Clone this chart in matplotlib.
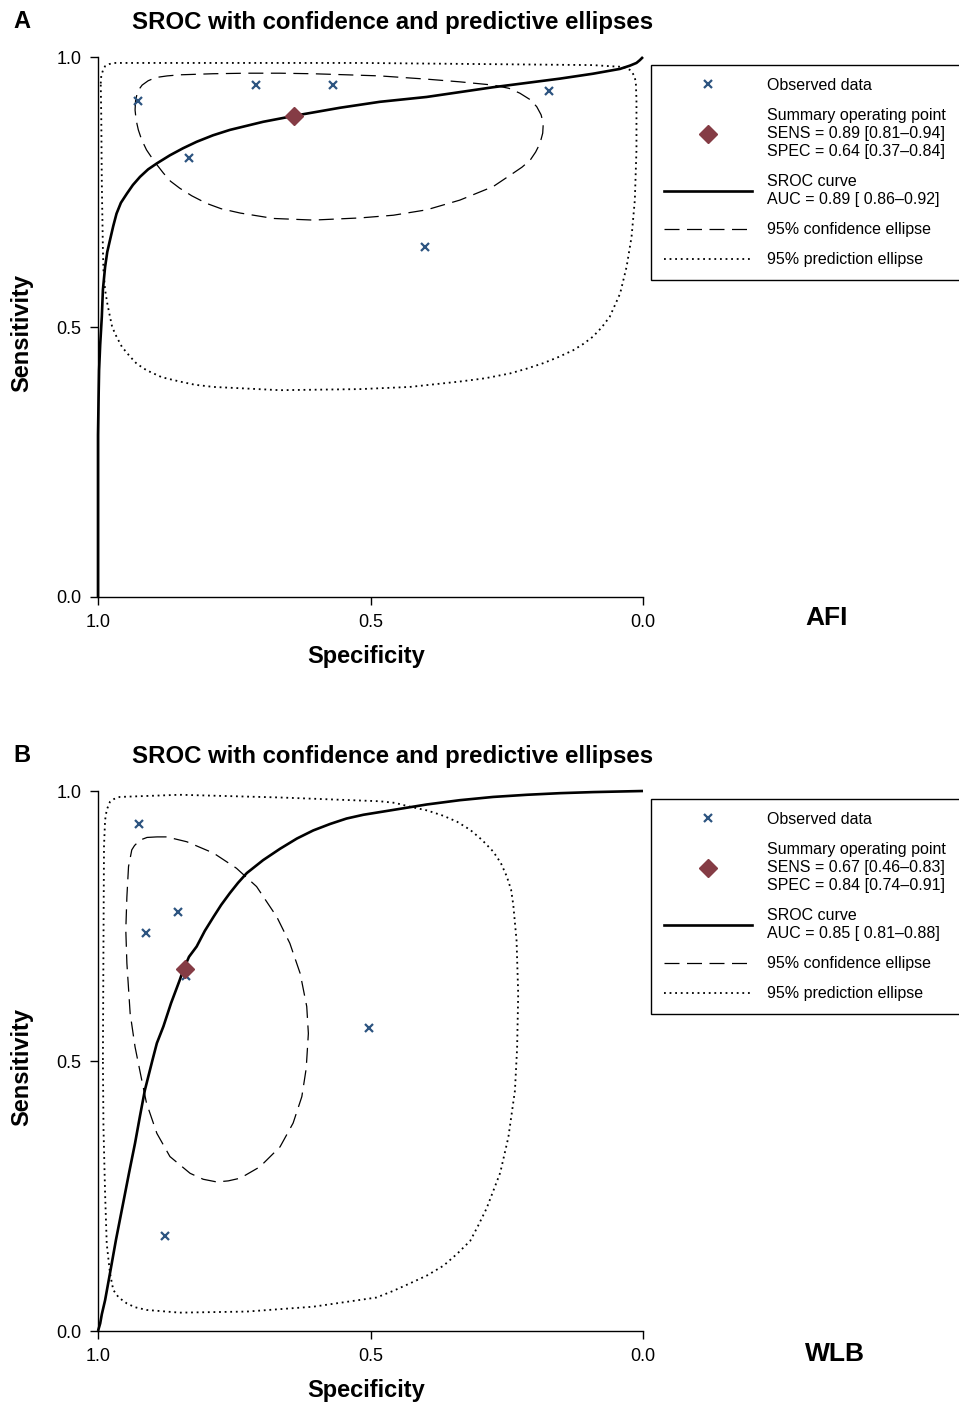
import matplotlib
matplotlib.use("Agg")
import matplotlib.pyplot as plt
from matplotlib.lines import Line2D

plt.rcParams['font.family'] = ['Liberation Sans', 'DejaVu Sans']

# ---------------- Panel A (AFI) ----------------
a_obs_spec = [0.927, 0.710, 0.569, 0.833, 0.400, 0.172]
a_obs_sens = [0.918, 0.948, 0.948, 0.813, 0.648, 0.937]
a_sum_spec = [0.64]
a_sum_sens = [0.89]
a_sroc_spec = [1.0, 1.0, 0.999, 0.998, 0.996, 0.993, 0.991, 0.987, 0.983, 0.978, 0.972,
               0.966, 0.958, 0.947, 0.936, 0.923, 0.908, 0.892, 0.868, 0.844, 0.819,
               0.789, 0.758, 0.697, 0.635, 0.556, 0.483, 0.397, 0.275, 0.152, 0.092,
               0.042, 0.024, 0.012, 0.006, 0.0]
a_sroc_sens = [0.0, 0.30, 0.365, 0.420, 0.467, 0.519, 0.569, 0.611, 0.639, 0.661, 0.687,
               0.710, 0.730, 0.747, 0.763, 0.778, 0.792, 0.803, 0.818, 0.831, 0.843,
               0.855, 0.865, 0.880, 0.892, 0.906, 0.917, 0.926, 0.944, 0.960, 0.969,
               0.978, 0.984, 0.989, 0.994, 1.0]
a_conf_spec = [0.932, 0.931, 0.927, 0.919, 0.908, 0.894, 0.873, 0.850, 0.789, 0.727, 0.666,
               0.606, 0.543, 0.483, 0.397, 0.336, 0.275, 0.246, 0.226, 0.207, 0.195, 0.187,
               0.183, 0.184, 0.189, 0.197, 0.207, 0.222, 0.238, 0.275, 0.336, 0.397, 0.458,
               0.519, 0.605, 0.678, 0.739, 0.774, 0.801, 0.828, 0.850, 0.867, 0.880, 0.897,
               0.911, 0.920, 0.926, 0.930, 0.932]
a_conf_sens = [0.902, 0.920, 0.937, 0.948, 0.956, 0.962, 0.965, 0.967, 0.969, 0.970, 0.970,
               0.969, 0.967, 0.965, 0.959, 0.954, 0.948, 0.942, 0.933, 0.921, 0.908, 0.893,
               0.877, 0.859, 0.840, 0.824, 0.809, 0.796, 0.785, 0.760, 0.735, 0.717, 0.707,
               0.702, 0.698, 0.701, 0.711, 0.719, 0.729, 0.743, 0.757, 0.770, 0.785, 0.807,
               0.828, 0.847, 0.865, 0.883, 0.902]
a_pred_spec = [0.995, 0.994, 0.991, 0.987, 0.979, 0.968, 0.960, 0.519, 0.092, 0.061, 0.042,
               0.031, 0.024, 0.019, 0.015, 0.013, 0.012, 0.012, 0.015, 0.021, 0.030, 0.042,
               0.061, 0.076, 0.092, 0.109, 0.128, 0.156, 0.183, 0.213, 0.244, 0.290, 0.336,
               0.428, 0.519, 0.666, 0.788, 0.822, 0.850, 0.883, 0.911, 0.929, 0.941, 0.956,
               0.966, 0.974, 0.978, 0.983, 0.987, 0.990, 0.991, 0.993, 0.994, 0.995]
a_pred_sens = [0.951, 0.965, 0.975, 0.983, 0.987, 0.989, 0.989, 0.989, 0.985, 0.983, 0.982,
               0.980, 0.976, 0.970, 0.963, 0.949, 0.920, 0.828, 0.735, 0.667, 0.612, 0.562,
               0.519, 0.499, 0.482, 0.469, 0.457, 0.444, 0.433, 0.423, 0.414, 0.405, 0.399,
               0.389, 0.385, 0.383, 0.389, 0.393, 0.399, 0.407, 0.420, 0.432, 0.445, 0.463,
               0.482, 0.500, 0.519, 0.544, 0.569, 0.606, 0.643, 0.766, 0.889, 0.951]
a_labels = ["Observed data",
            "Summary operating point\nSENS = 0.89 [0.81\u20130.94]\nSPEC = 0.64 [0.37\u20130.84]",
            "SROC curve\nAUC = 0.89 [ 0.86\u20130.92]",
            "95% confidence ellipse",
            "95% prediction ellipse"]

# ---------------- Panel B (WLB) ----------------
b_obs_spec = [0.925, 0.854, 0.912, 0.839, 0.502, 0.877]
b_obs_sens = [0.938, 0.776, 0.737, 0.657, 0.562, 0.176]
b_sum_spec = [0.84]
b_sum_sens = [0.67]
b_sroc_spec = [1.0, 0.996, 0.993, 0.987, 0.978, 0.967, 0.954, 0.943, 0.932, 0.923, 0.914,
               0.900, 0.892, 0.880, 0.866, 0.850, 0.843, 0.833, 0.819, 0.804, 0.788, 0.774,
               0.758, 0.743, 0.727, 0.697, 0.666, 0.635, 0.605, 0.574, 0.544, 0.513, 0.458,
               0.397, 0.336, 0.275, 0.213, 0.152, 0.091, 0.0]
b_sroc_sens = [0.0, 0.014, 0.031, 0.057, 0.107, 0.169, 0.236, 0.293, 0.348, 0.398, 0.446,
               0.502, 0.533, 0.564, 0.607, 0.650, 0.670, 0.693, 0.712, 0.741, 0.767, 0.789,
               0.811, 0.830, 0.848, 0.872, 0.893, 0.912, 0.927, 0.939, 0.949, 0.956, 0.965,
               0.975, 0.983, 0.989, 0.993, 0.996, 0.998, 1.0]
b_conf_spec = [0.892, 0.910, 0.923, 0.933, 0.938, 0.944, 0.947, 0.949, 0.947, 0.941, 0.932,
               0.921, 0.911, 0.892, 0.868, 0.831, 0.807, 0.782, 0.761, 0.739, 0.703, 0.666,
               0.642, 0.626, 0.618, 0.614, 0.617, 0.629, 0.648, 0.672, 0.709, 0.746, 0.788,
               0.837, 0.874, 0.892]
b_conf_sens = [0.915, 0.914, 0.909, 0.899, 0.891, 0.860, 0.804, 0.743, 0.681, 0.588, 0.526,
               0.471, 0.422, 0.366, 0.323, 0.292, 0.281, 0.276, 0.278, 0.283, 0.304, 0.341,
               0.385, 0.434, 0.486, 0.551, 0.601, 0.662, 0.718, 0.767, 0.823, 0.857, 0.885,
               0.906, 0.915, 0.915]
b_pred_spec = [0.991, 0.990, 0.989, 0.987, 0.984, 0.978, 0.971, 0.960, 0.850, 0.666, 0.483,
               0.455, 0.428, 0.396, 0.366, 0.341, 0.317, 0.295, 0.275, 0.261, 0.250, 0.242,
               0.238, 0.232, 0.229, 0.231, 0.235, 0.247, 0.262, 0.287, 0.303, 0.317, 0.341,
               0.366, 0.396, 0.428, 0.459, 0.489, 0.605, 0.727, 0.850, 0.911, 0.932, 0.947,
               0.962, 0.972, 0.978, 0.984, 0.987, 0.990, 0.991]
b_pred_sens = [0.502, 0.712, 0.897, 0.946, 0.965, 0.980, 0.985, 0.989, 0.993, 0.988, 0.981,
               0.978, 0.971, 0.964, 0.954, 0.943, 0.928, 0.909, 0.888, 0.867, 0.842, 0.817,
               0.789, 0.723, 0.624, 0.524, 0.445, 0.359, 0.293, 0.227, 0.194, 0.167, 0.143,
               0.121, 0.103, 0.088, 0.074, 0.062, 0.045, 0.036, 0.034, 0.039, 0.044, 0.051,
               0.062, 0.076, 0.107, 0.162, 0.255, 0.378, 0.502]
b_labels = ["Observed data",
            "Summary operating point\nSENS = 0.67 [0.46\u20130.83]\nSPEC = 0.84 [0.74\u20130.91]",
            "SROC curve\nAUC = 0.85 [ 0.81\u20130.88]",
            "95% confidence ellipse",
            "95% prediction ellipse"]

ticks = [1.0, 0.5, 0.0]
tick_labels = ["1.0", "0.5", "0.0"]

W, H = 959, 1405
OBS_COLOR = "#2d5480"
SUM_COLOR = "#853c45"
DASH = (0, (12, 6))
DOT = (0, (1, 2.1))
DOT_LW = 1.3

fig = plt.figure(figsize=(W / 100, H / 100), dpi=100)


def fx(px):
    return px / W


def fy(py):
    return 1 - py / H


def make_panel(top_px, letter, name, obs_x, obs_y, sum_x, sum_y, sroc_x, sroc_y,
               conf_x, conf_y, pred_x, pred_y, labels, leg_top_px, name_y_px):
    left, right, bottom = 98, 643, top_px + 540
    ax = fig.add_axes([fx(left), fy(bottom), (right - left) / W, 540 / H])
    ax.set_xlim(1.0, 0.0)
    ax.set_ylim(0.0, 1.0)
    for s in ("top", "right"):
        ax.spines[s].set_visible(False)
    for s in ("left", "bottom"):
        ax.spines[s].set_linewidth(1.0)
    ax.set_xticks(ticks)
    ax.set_xticklabels(tick_labels)
    ax.set_yticks(ticks)
    ax.set_yticklabels(tick_labels)
    ax.tick_params(direction="out", length=6, width=1.0, labelsize=13, pad=6)

    ax.plot(pred_x, pred_y, color="black", lw=DOT_LW, ls=DOT, clip_on=False)
    ax.plot(conf_x, conf_y, color="black", lw=0.9, ls=DASH, clip_on=False)
    ax.plot(sroc_x, sroc_y, color="black", lw=1.9, clip_on=False, solid_capstyle="butt",
            solid_joinstyle="round")
    ax.plot(obs_x, obs_y, ls="none", marker="x", ms=5.5, mew=1.6, color=OBS_COLOR,
            clip_on=False)
    ax.plot(sum_x, sum_y, ls="none", marker="D", ms=9, color=SUM_COLOR, clip_on=False)

    handles = [
        Line2D([], [], ls="none", marker="x", ms=5.5, mew=1.6, color=OBS_COLOR),
        Line2D([], [], ls="none", marker="D", ms=9, color=SUM_COLOR),
        Line2D([], [], color="black", lw=1.9),
        Line2D([], [], color="black", lw=0.9, ls=DASH),
        Line2D([], [], color="black", lw=DOT_LW, ls=DOT),
    ]
    leg = ax.legend(handles, labels, loc="upper left",
                    bbox_to_anchor=(fx(651), fy(leg_top_px), fx(980) - fx(651), 0),
                    bbox_transform=fig.transFigure, mode="expand", borderaxespad=0,
                    fontsize=11.5, handlelength=5.5, handletextpad=0.95, borderpad=0.8,
                    labelspacing=0.95, numpoints=1, fancybox=False, framealpha=1,
                    edgecolor="black")
    leg.get_frame().set_linewidth(1.0)
    for t in leg.get_texts():
        t.set_linespacing(1.25)

    fig.text(fx(22), fy(top_px - 35), letter, fontsize=17, fontweight="bold",
             ha="center", va="center")
    fig.text(fx(393), fy(top_px - 35), "SROC with confidence and predictive ellipses",
             fontsize=17.3, fontweight="bold", ha="center", va="center")
    fig.text(fx(22), fy(top_px + 276), "Sensitivity", fontsize=17, fontweight="bold",
             rotation=90, ha="center", va="center")
    fig.text(fx(366), fy(top_px + 600), "Specificity", fontsize=17, fontweight="bold",
             ha="center", va="center")
    fig.text(fx(805), fy(name_y_px), name, fontsize=19, fontweight="bold",
             ha="left", va="center")
    return ax


make_panel(57, "A", "AFI", a_obs_spec, a_obs_sens, a_sum_spec, a_sum_sens,
           a_sroc_spec, a_sroc_sens, a_conf_spec, a_conf_sens, a_pred_spec, a_pred_sens,
           a_labels, 65, 618)
make_panel(791, "B", "WLB", b_obs_spec, b_obs_sens, b_sum_spec, b_sum_sens,
           b_sroc_spec, b_sroc_sens, b_conf_spec, b_conf_sens, b_pred_spec, b_pred_sens,
           b_labels, 799, 1354)

fig.savefig("out.png", dpi=100)
